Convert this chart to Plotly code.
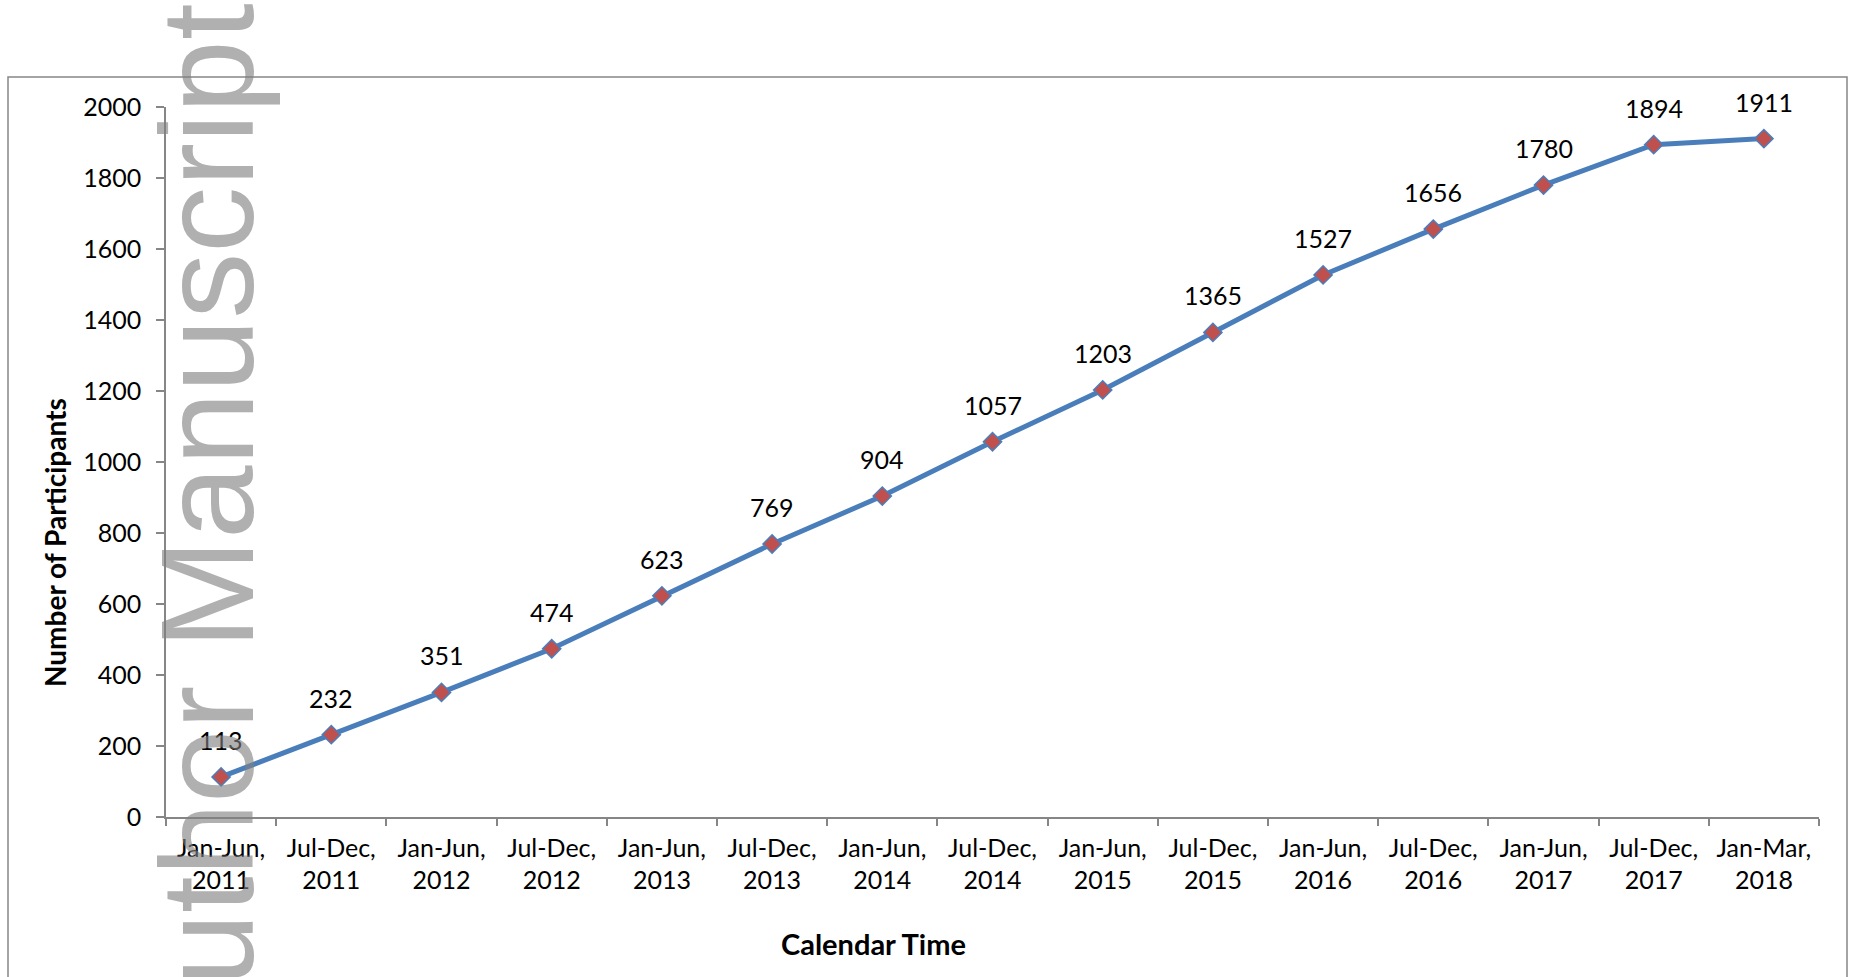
import plotly.graph_objects as go

# Cumulative enrolment by reporting period
periods = [
    "Jan-Jun,<br>2011", "Jul-Dec,<br>2011", "Jan-Jun,<br>2012", "Jul-Dec,<br>2012",
    "Jan-Jun,<br>2013", "Jul-Dec,<br>2013", "Jan-Jun,<br>2014", "Jul-Dec,<br>2014",
    "Jan-Jun,<br>2015", "Jul-Dec,<br>2015", "Jan-Jun,<br>2016", "Jul-Dec,<br>2016",
    "Jan-Jun,<br>2017", "Jul-Dec,<br>2017", "Jan-Mar,<br>2018",
]
participants = [113, 232, 351, 474, 623, 769, 904, 1057, 1203, 1365, 1527, 1656, 1780, 1894, 1911]
y_ticks = [0, 200, 400, 600, 800, 1000, 1200, 1400, 1600, 1800, 2000]

W, H = 1851, 977
L, R, T, B = 166, 32, 107, 160
PW, PH = W - L - R, H - T - B

def px_x(p):
    return (p - L) / PW

def px_y(p):
    return (H - B - p) / PH

FONT = "Lato"
AXIS_GREY = "#868686"

fig = go.Figure()
fig.add_trace(go.Scatter(
    x=periods, y=participants,
    mode="lines+markers",
    line=dict(color="#4A7EBB", width=5),
    marker=dict(symbol="diamond", size=14, color="#C0504D",
                line=dict(color="#4A7EBB", width=1.5)),
    showlegend=False, hoverinfo="x+y",
))

# value labels above each point
for cat, val in zip(periods, participants):
    fig.add_annotation(x=cat, y=val, text=str(val), showarrow=False,
                       yshift=37, xanchor="center", yanchor="middle",
                       font=dict(family=FONT, size=25, color="#000000"))

# axis titles
fig.add_annotation(x=px_x(873), y=px_y(943), xref="paper", yref="paper",
                   text="<b>Calendar Time</b>", showarrow=False,
                   xanchor="center", yanchor="middle",
                   font=dict(family=FONT, size=29, color="#000000"))
fig.add_annotation(x=px_x(55), y=px_y(543), xref="paper", yref="paper",
                   text="<b>Number of Participants</b>", showarrow=False,
                   textangle=-90, xanchor="center", yanchor="middle",
                   font=dict(family=FONT, size=28, color="#000000"))

# chart-area frame
fig.add_shape(type="rect", xref="paper", yref="paper",
              x0=px_x(8), x1=px_x(1847), y0=px_y(1010), y1=px_y(77),
              line=dict(color=AXIS_GREY, width=1.5), layer="below")

# vertical "Author Manuscript" stamp
fig.add_annotation(x=px_x(207), y=px_y(2), xref="paper", yref="paper",
                   text="Author Manuscript", showarrow=False,
                   textangle=-90, xanchor="center", yanchor="top",
                   font=dict(family="Liberation Sans", size=132,
                             color="rgba(128,128,128,0.62)"))

fig.update_layout(
    width=W, height=H,
    margin=dict(l=L, r=R, t=T, b=B, pad=0),
    paper_bgcolor="white", plot_bgcolor="white",
    font=dict(family=FONT, size=25, color="#000000"),
    xaxis=dict(
        type="category", range=[-0.5, len(periods) - 0.5],
        showline=True, linecolor=AXIS_GREY, linewidth=1.5,
        ticks="outside", tickson="boundaries", ticklen=7,
        tickcolor=AXIS_GREY, tickwidth=1.5,
        showgrid=False, zeroline=False,
        ticklabelstandoff=8,
        tickfont=dict(family=FONT, size=25),
    ),
    yaxis=dict(
        range=[0, 2000], tickvals=y_ticks,
        showline=True, linecolor=AXIS_GREY, linewidth=1.5,
        ticks="outside", ticklen=8, tickcolor=AXIS_GREY, tickwidth=1.5,
        showgrid=False, zeroline=False,
        ticklabelstandoff=10,
        tickfont=dict(family=FONT, size=25),
    ),
)

fig.write_html("out.html")
